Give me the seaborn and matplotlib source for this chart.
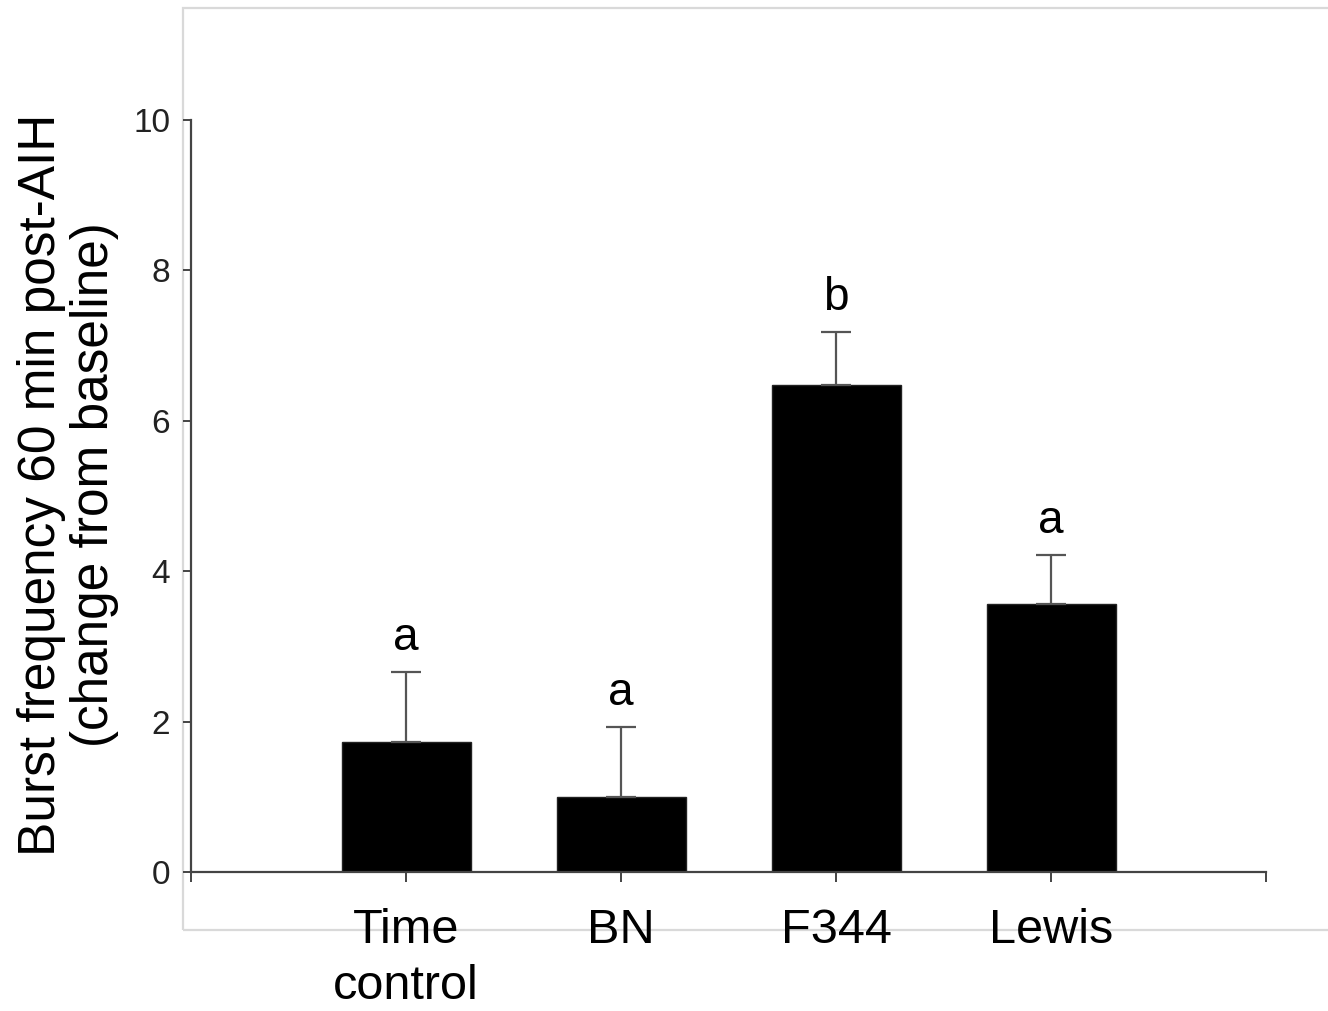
import matplotlib
matplotlib.use("Agg")
import matplotlib.pyplot as plt
import seaborn as sns
import numpy as np
import pandas as pd
from matplotlib.patches import Rectangle

groups = ["Time\ncontrol", "BN", "F344", "Lewis"]
means = [1.73, 1.0, 6.48, 3.56]
sems = [0.93, 0.93, 0.70, 0.66]
letters = ["a", "a", "b", "a"]
yticks = [0, 2, 4, 6, 8, 10]

sns.set_theme(style="white")
plt.rcParams['font.family'] = ['Liberation Sans', 'DejaVu Sans']

fig = plt.figure(figsize=(13.28, 10.11), dpi=100)
ax = fig.add_axes([191/1328, 1-872/1011, (1266-191)/1328, (872-120)/1011])

df = pd.DataFrame({"group": groups, "value": means})
sns.barplot(data=df, x="group", y="value", color="black", width=0.6,
            errorbar=None, ax=ax, saturation=1, edgecolor="#222222", linewidth=1)

x = np.arange(len(groups))
ax.errorbar(x, means, yerr=[np.zeros(len(means)), sems], fmt="none",
            ecolor="#555555", elinewidth=1.6, capsize=11, capthick=1.6, zorder=3)

for xi, m, s, t in zip(x, means, sems, letters):
    ax.text(xi, m + s + 0.16, t, ha="center", va="bottom", fontsize=33, color="black")

ax.set_xlim(-1, 4)
ax.set_ylim(0, 10)
ax.set_yticks(yticks)
ax.set_yticklabels([str(v) for v in yticks], fontsize=24, color="#222222")
ax.set_xticks([-1, 0, 1, 2, 3, 4])
ax.set_xticklabels([""] + groups + [""], fontsize=35, linespacing=1.3, color="black")
ax.set_xlabel("")
ax.set_ylabel("Burst frequency 60 min post-AIH\n(change from baseline)", fontsize=37,
              labelpad=10, linespacing=1.1, color="black")
ax.yaxis.label.set_y(0.515)

for side in ["top", "right"]:
    ax.spines[side].set_visible(False)
for side in ["left", "bottom"]:
    ax.spines[side].set_color("#444444")
    ax.spines[side].set_linewidth(1.6)

ax.tick_params(axis="y", direction="out", length=6, width=1.4, color="#444444", pad=9, left=True)
ax.tick_params(axis="x", direction="out", length=7, width=1.4, color="#444444", pad=19, bottom=True)

# light gray outer frame (right edge runs off the image)
fig.add_artist(Rectangle((183/1328, 1-930/1011), (1400-183)/1328, (930-8)/1011,
                         transform=fig.transFigure, fill=False, edgecolor="#d9d9d9",
                         linewidth=1.6, zorder=0))

fig.savefig("out.png", dpi=100, facecolor="white")
